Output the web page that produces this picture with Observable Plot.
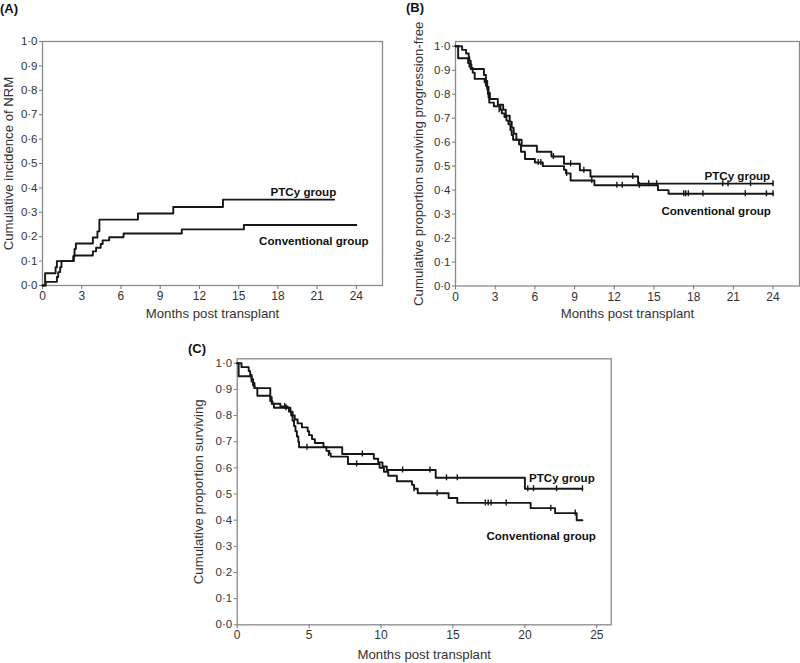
<!DOCTYPE html>
<html><head><meta charset="utf-8">
<script src="https://cdn.jsdelivr.net/npm/d3@7"></script>
<script src="https://cdn.jsdelivr.net/npm/@observablehq/plot@0.6"></script>
<style>
html,body{margin:0;padding:0;background:#fff;}
#fig{position:relative;width:800px;height:663px;overflow:hidden;font-family:"Liberation Sans",Arial,sans-serif;background:#fff;}
.panel{position:absolute;}
.tag{position:absolute;font-weight:bold;font-size:13px;line-height:13px;color:#111;white-space:nowrap;}
</style></head><body><div id="fig"></div>
<script>
// ---------- shared ----------
const xTicksAB = [0,3,6,9,12,15,18,21,24];
const xTicksC = [0,5,10,15,20,25];
const yTicks = [0,0.1,0.2,0.3,0.4,0.5,0.6,0.7,0.8,0.9,1.0];
const groupNames = ["PTCy group", "Conventional group"];
const xTitle = "Months post transplant";

// ---------- (A) cumulative incidence of NRM ----------
const nrmPtcyT = [0,0.2,1.0,1.1,2.35,2.45,2.55,3.85,4.2,4.35,7.3,10.0,13.8,22.3];
const nrmPtcyV = [0,0.05,0.075,0.1,0.12,0.15,0.172,0.197,0.222,0.27,0.295,0.322,0.352,0.352];
const nrmConvT = [0,0.25,1.1,1.2,1.35,1.45,2.4,3.85,4.1,4.45,4.6,5.1,6.2,10.65,15.4,24];
const nrmConvV = [0,0.015,0.035,0.055,0.075,0.1,0.123,0.14,0.155,0.17,0.185,0.198,0.213,0.23,0.248,0.248];

// ---------- (B) progression-free survival ----------
const pfsPtcyT = [0,0.2,0.95,1.05,1.15,2.15,2.3,2.4,2.5,2.6,3.2,3.6,3.8,4.1,4.25,4.4,4.6,5.0,6.15,7.25,8.2,9.4,10.2,13.8,24];
const pfsPtcyV = [1,0.95,0.93,0.915,0.905,0.88,0.855,0.83,0.805,0.78,0.756,0.735,0.71,0.685,0.66,0.635,0.61,0.585,0.56,0.54,0.51,0.483,0.457,0.427,0.427];
const pfsPtcyCensT = [7.4,8.7,9.7,13.4,14.6,15.2,20.2,20.6,22.3,24];
const pfsPtcyCensV = [0.54,0.51,0.483,0.457,0.427,0.427,0.427,0.427,0.427,0.427];
const pfsConvT = [0,0.5,0.8,1.0,1.05,1.15,1.2,1.3,1.45,2.2,2.3,2.4,2.45,2.5,2.55,2.9,3.4,3.5,3.7,3.85,4.0,4.15,4.25,4.35,4.8,4.95,5.25,6.0,6.6,8.2,8.35,8.7,10.5,15.3,16.1,24];
const pfsConvV = [1,0.985,0.97,0.955,0.94,0.925,0.91,0.89,0.864,0.85,0.835,0.82,0.80,0.785,0.765,0.75,0.735,0.72,0.705,0.69,0.675,0.65,0.63,0.61,0.59,0.56,0.53,0.515,0.50,0.485,0.47,0.44,0.42,0.40,0.385,0.385];
const pfsConvCensT = [3.3,6.25,6.45,8.4,10.3,12.2,12.6,13.9,17.25,17.4,17.6,18.7,21.9,23.5,24];
const pfsConvCensV = [0.735,0.515,0.515,0.47,0.44,0.42,0.42,0.42,0.385,0.385,0.385,0.385,0.385,0.385,0.385];

// ---------- (C) overall survival ----------
const osPtcyT = [0,0.1,1.0,1.1,1.2,2.3,2.4,2.55,3.6,3.75,3.85,3.95,4.05,4.15,4.25,4.3,7.3,9.5,9.8,10.1,10.4,13.8,20.0,24];
const osPtcyV = [1,0.95,0.93,0.915,0.905,0.87,0.845,0.83,0.815,0.80,0.78,0.76,0.74,0.72,0.70,0.679,0.653,0.635,0.621,0.605,0.592,0.562,0.52,0.52];
const osPtcyCensT = [3.4,4.85,8.7,11.5,13.4,14.55,15.3,20.2,20.6,22.2,24];
const osPtcyCensV = [0.83,0.679,0.653,0.592,0.592,0.562,0.562,0.52,0.52,0.52,0.52];
const osConvT = [0,0.3,0.8,0.9,1.0,1.1,1.2,1.4,2.3,2.45,3.0,3.5,3.7,3.85,4.0,4.2,4.5,4.9,5.0,5.2,5.4,6.0,6.2,6.4,6.5,7.7,9.9,10.2,10.5,11.1,12.15,12.3,12.55,14.7,15.3,20.4,22.1,23.6,24];
const osConvV = [1,0.985,0.97,0.955,0.94,0.925,0.905,0.876,0.855,0.845,0.835,0.83,0.815,0.80,0.785,0.77,0.755,0.74,0.725,0.71,0.695,0.68,0.665,0.655,0.643,0.615,0.60,0.585,0.57,0.549,0.535,0.52,0.503,0.485,0.466,0.446,0.427,0.40,0.40];
const osConvCensT = [3.3,6.35,8.3,12.3,13.9,17.25,17.45,17.65,18.7,21.8,23.5];
const osConvCensV = [0.835,0.655,0.615,0.52,0.503,0.466,0.466,0.466,0.466,0.446,0.427];

const zip = (T, V) => T.map((t, i) => ({t, v: V[i]}));
const fmt = d => d.toFixed(1).replace(".", "\u00B7");

function panel(cfg) {
  const marks = [
    Plot.frame({stroke: "#8a8a8a", strokeWidth: 1.3}),
    Plot.axisX({ticks: cfg.xTicks, tickSize: 4, tickPadding: 2, label: null, stroke: "#777", fill: "#333", fontSize: 12}),
    Plot.axisY({ticks: yTicks, tickFormat: fmt, tickSize: 3, tickPadding: 2, label: null, stroke: "#777", fill: "#333", fontSize: 11.5}),
    Plot.text([xTitle], {frameAnchor: "bottom", textAnchor: "middle", lineAnchor: "middle", dy: cfg.xTitleDy, fontSize: 13.2, fill: "#333"}),
    Plot.text([cfg.yTitle], {frameAnchor: "left", textAnchor: "middle", lineAnchor: "middle", rotate: -90, dx: cfg.yTitleDx, fontSize: 13.2, fill: "#333"})
  ];
  for (const c of cfg.curves) {
    marks.push(Plot.line(c, {x: "t", y: "v", curve: "step-after", stroke: "#161616", strokeWidth: 1.9}));
  }
  for (const c of (cfg.censors || [])) {
    marks.push(Plot.ruleX(c, {x: "t", y1: "v", y2: "v", insetTop: -3, insetBottom: -3, stroke: "#161616", strokeWidth: 1.4}));
  }
  cfg.labels.forEach((l, i) => {
    marks.push(Plot.text([groupNames[i]], {x: () => l[0], y: () => l[1], fontSize: 11.6, fontWeight: "bold", fill: "#111"}));
  });
  return Plot.plot({
    width: cfg.w, height: cfg.h,
    marginLeft: cfg.ml, marginTop: cfg.mt, marginRight: cfg.mr, marginBottom: cfg.mb,
    x: {domain: [0, 26]},
    y: {domain: cfg.yDomain},
    style: {fontFamily: "'Liberation Sans', Arial, sans-serif", background: "transparent", color: "#333", overflow: "visible"},
    marks
  });
}

const fig = document.getElementById("fig");
function place(node, left, top) {
  const d = document.createElement("div");
  d.className = "panel";
  d.style.left = left + "px"; d.style.top = top + "px";
  d.appendChild(node);
  fig.appendChild(d);
}
function tag(text, left, top) {
  const d = document.createElement("div");
  d.className = "tag"; d.textContent = text;
  d.style.left = left + "px"; d.style.top = top + "px";
  fig.appendChild(d);
}

place(panel({
  w: 400, h: 325, ml: 42, mt: 41, mr: 18, mb: 40,
  xTicks: xTicksAB, yDomain: [0, 1], xTitleDy: 28, yTitleDx: -34,
  yTitle: "Cumulative incidence of NRM",
  curves: [zip(nrmPtcyT, nrmPtcyV), zip(nrmConvT, nrmConvV)],
  labels: [[19.95, 0.381], [20.75, 0.181]]
}), 0, 0);

place(panel({
  w: 400, h: 325, ml: 55, mt: 41, mr: 1, mb: 39.5,
  xTicks: xTicksAB, yDomain: [0, 1.02], xTitleDy: 28, yTitleDx: -37,
  yTitle: "Cumulative proportion surviving progression-free",
  curves: [zip(pfsPtcyT, pfsPtcyV), zip(pfsConvT, pfsConvV)],
  censors: [zip(pfsPtcyCensT, pfsPtcyCensV), zip(pfsConvCensT, pfsConvCensV)],
  labels: [[21.3, 0.458], [19.7, 0.3125]]
}), 400, 0);

place(panel({
  w: 440, h: 343, ml: 56.7, mt: 38.3, mr: 9.3, mb: 38.7,
  xTicks: xTicksC, yDomain: [0, 1.017], xTitleDy: 30, yTitleDx: -38.5,
  yTitle: "Cumulative proportion surviving",
  curves: [zip(osPtcyT, osPtcyV), zip(osConvT, osConvV)],
  censors: [zip(osPtcyCensT, osPtcyCensV), zip(osConvCensT, osConvCensV)],
  labels: [[22.57, 0.562], [21.13, 0.3386]]
}), 180, 320);

tag("(A)", 0, 2);
tag("(B)", 406, 0.5);
tag("(C)", 188, 342);
</script></body></html>
